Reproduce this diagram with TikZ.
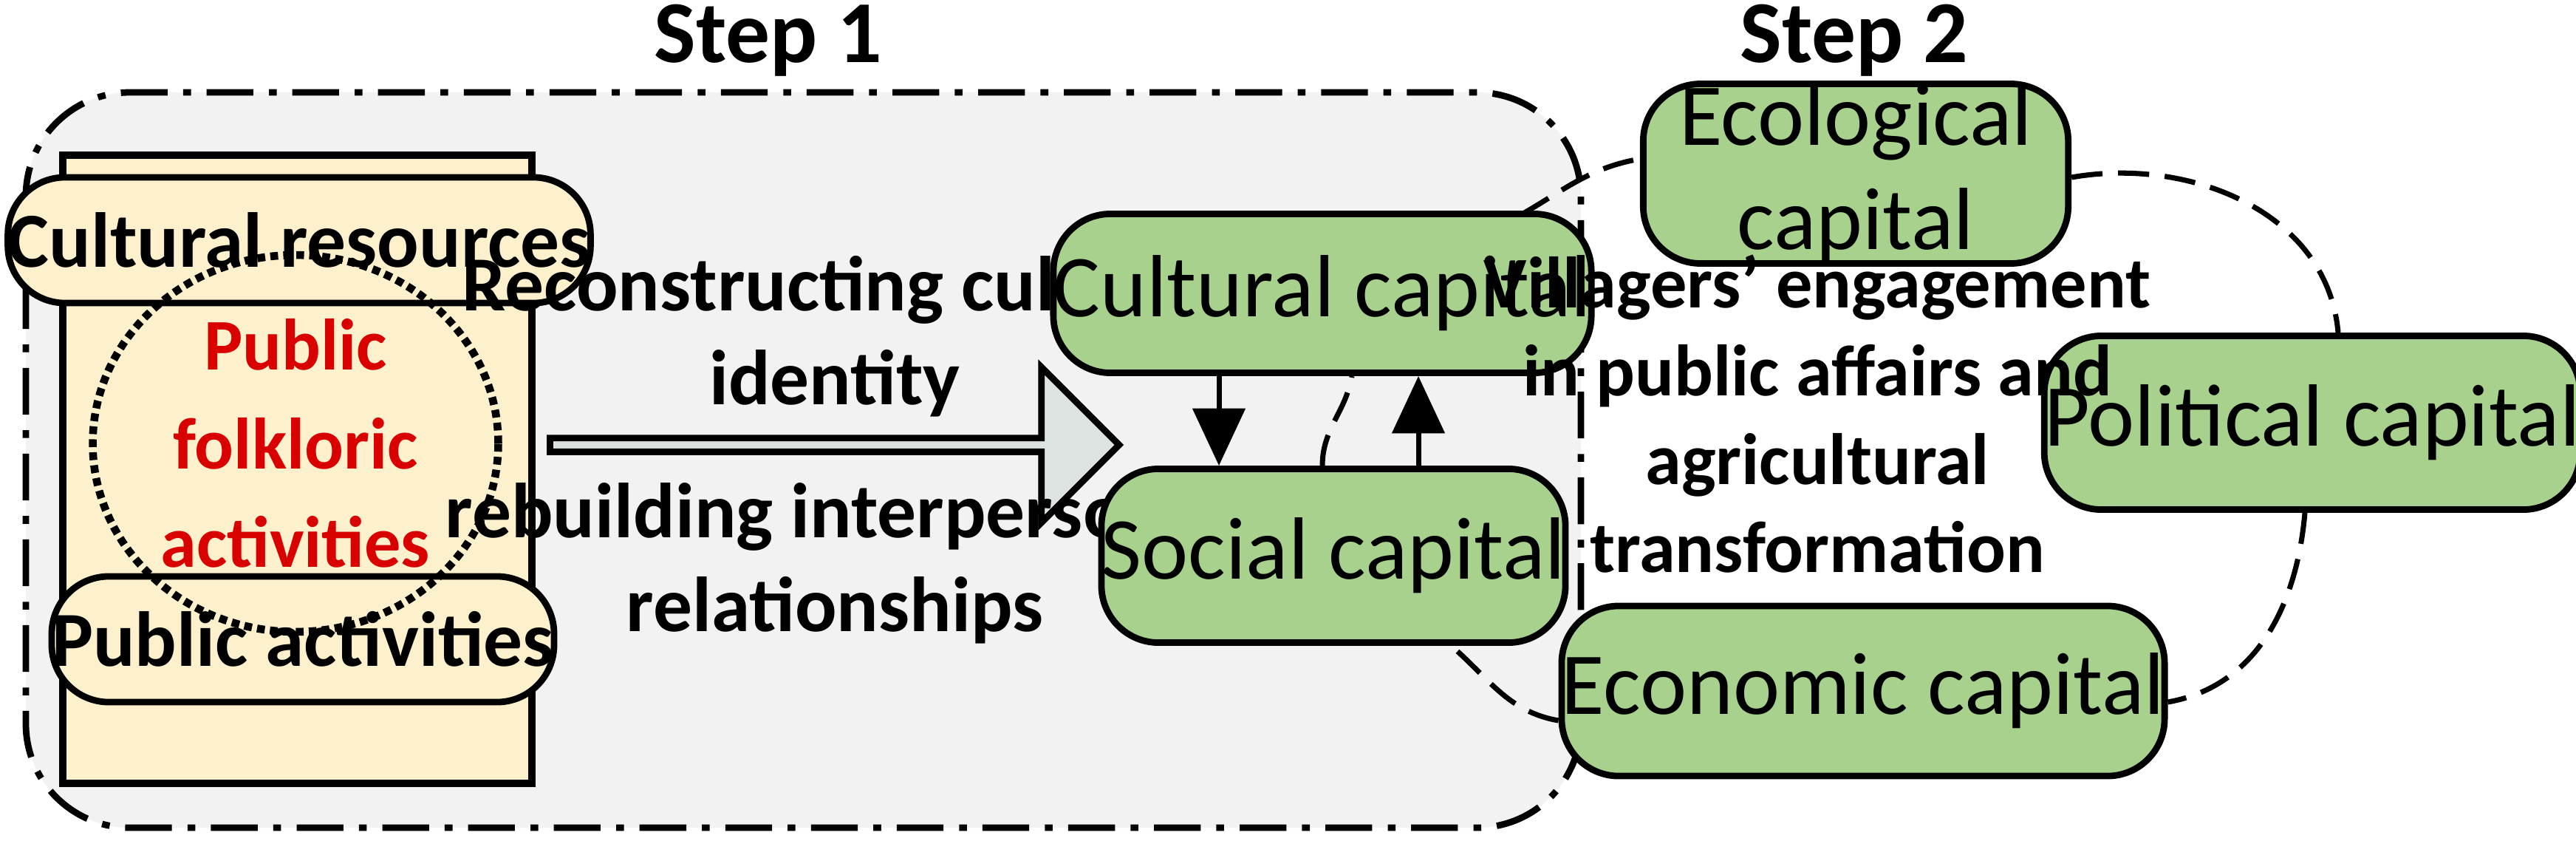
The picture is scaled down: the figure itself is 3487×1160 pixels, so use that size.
\documentclass[tikz,border=0pt]{standalone}
\usepackage{fontspec}
\setmainfont{Carlito}
\usetikzlibrary{shapes.geometric,shapes.arrows,arrows.meta}
\definecolor{gbox}{HTML}{A9D18E}
\definecolor{ybox}{HTML}{FDF0CC}
\definecolor{bg}{HTML}{F2F2F2}
\definecolor{arr}{HTML}{DDE3E0}
\tikzset{
 capbox/.style={draw,line width=2.5pt,rounded corners=22pt,fill=gbox,font=\fontsize{34}{40}\selectfont,align=center,inner sep=0},
 wbox/.style={draw,line width=2.5pt,rounded corners=22pt,fill=ybox,font=\bfseries\fontsize{30}{36}\selectfont,align=center,inner sep=0},
 lab/.style={font=\bfseries\fontsize{30}{36}\selectfont,align=center},
 dl/.style={line width=2pt,dash pattern=on 12pt off 6pt}
}
\begin{document}
\begin{tikzpicture}[x=0.01cm,y=-0.01cm]
\useasboundingbox (0,0) rectangle (3487,1160);
\node[lab,font=\bfseries\fontsize{34}{40}\selectfont] (s1) at (1040,55) {Step 1};
\node[lab,font=\bfseries\fontsize{34}{40}\selectfont] (s2) at (2510,55) {Step 2};
\draw[line width=2.5pt,dash pattern=on 18pt off 6pt on 3pt off 6pt,rounded corners=40pt,fill=bg] (35,125) rectangle (2140,1120);
\draw[line width=3pt,fill=ybox] (85,210) rectangle (720,1060);
\node[wbox,minimum width=5.9cm,minimum height=1.7cm] (cr) at (405,325) {Cultural resources};
\node[wbox,minimum width=5.4cm,minimum height=1.7cm] (pa) at (410,865) {Public activities};
\node[ellipse,draw,dotted,line width=3pt,minimum width=5.4cm,minimum height=3.5cm,text=red!85!black,font=\bfseries\fontsize{28}{38}\selectfont,align=center] (pf) at (400,600) {Public\\folkloric\\activities};
\node[single arrow,draw,line width=2.5pt,fill=arr,minimum height=7.7cm,minimum width=2.1cm,single arrow head extend=0.45cm,inner sep=0,single arrow tip angle=90] (ba) at (1125,602) {};
\node[lab] (t1) at (1130,455) {Reconstructing cultural\\identity};
\node[lab] (t2) at (1130,762) {rebuilding interpersonal\\relationships};
\node[capbox,minimum width=5.8cm,minimum height=2.15cm] (cc) at (1790,397) {Cultural capital};
\node[capbox,minimum width=5.7cm,minimum height=2.35cm] (sc) at (1805,752) {Social capital};
\node[capbox,minimum width=5.75cm,minimum height=2.2cm] (ec) at (2512,235) {Ecological\\capital};
\node[capbox,minimum width=5.9cm,minimum height=2.35cm] (pc) at (3130,572) {Political capital};
\node[capbox,minimum width=5.95cm,minimum height=2.3cm] (mc) at (2522,935) {Economic capital};
\node[lab,font=\bfseries\fontsize{28}{34}\selectfont] (vt) at (2460,560) {Villagers' engagement\\in public affairs and\\agricultural\\transformation};
\draw[line width=2pt,-{Triangle[length=22pt,width=20pt]}] (cc.south -| 1650,0) -- (sc.north -| 1650,0);
\draw[line width=2pt,-{Triangle[length=22pt,width=20pt]}] (sc.north -| 1920,0) -- (cc.south -| 1920,0);
\draw[dl] (sc.north -| 1790,0) to[out=90,in=-100] (cc.south -| 1830,0);
\coordinate (ccne) at (2060,290);
\coordinate (scb) at (1960,870);
\draw[dl] (ccne) to[out=30,in=190] (ec.west |- 0,215);
\draw[dl] (ec.east |- 0,240) to[out=10,in=95] (pc.north -| 3165,0);
\draw[dl] (pc.south -| 3120,0) to[out=-95,in=10] (mc.east |- 0,950);
\draw[dl] (mc.west |- 0,975) to[out=170,in=-40] (scb);
\end{tikzpicture}
\end{document}
